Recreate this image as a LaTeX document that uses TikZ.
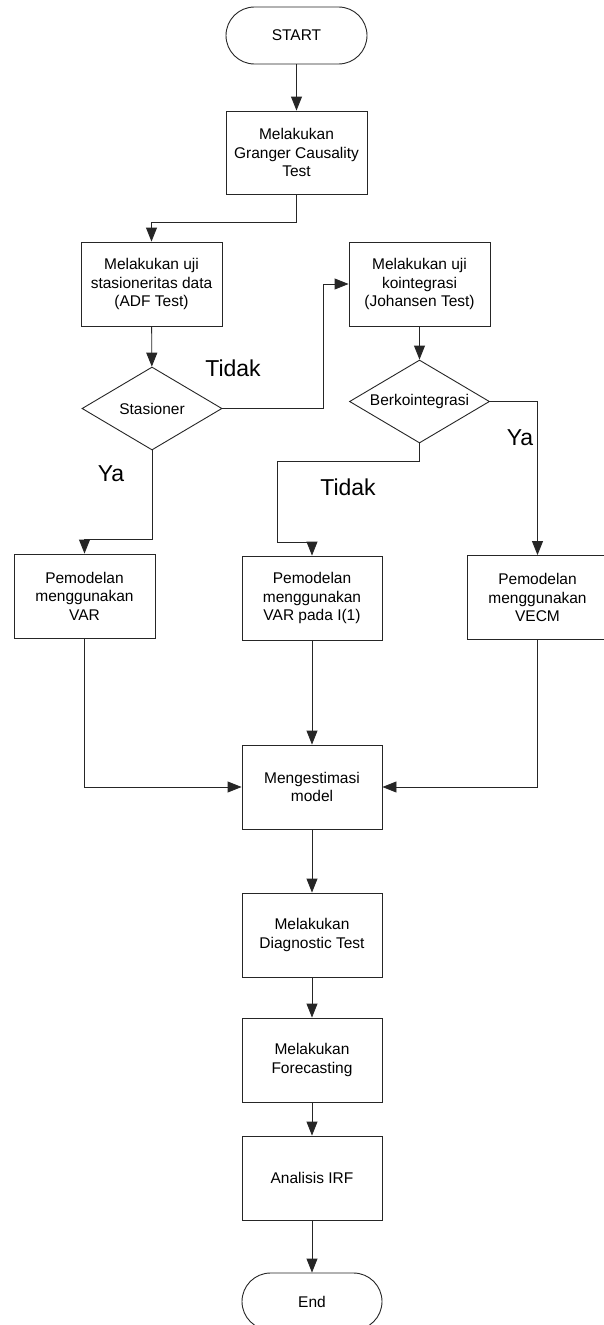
\documentclass[tikz,border=0pt]{standalone}
\usepackage{fontspec}
\setmainfont{Liberation Sans}
\usetikzlibrary{arrows.meta,shapes.geometric}
\newcommand\myboxfont{\fontsize{15.5}{18.5}\selectfont}
\newcommand\mylblfont{\fontsize{23}{26}\selectfont}
\begin{document}
\begin{tikzpicture}[x=1pt,y=-1pt,
  box/.style={draw=black!85, line width=0.9pt, minimum width=141pt, minimum height=84pt, inner sep=0pt, align=center, font=\myboxfont},
  term/.style={draw=black!85, line width=0.9pt, rounded corners=28.5pt, minimum width=141pt, minimum height=57pt, inner sep=0pt, font=\myboxfont},
  dec/.style={draw=black!85, diamond, shape aspect=1.687, line width=0.9pt, minimum width=140pt, minimum height=83pt, inner sep=0pt, font=\myboxfont},
  lbl/.style={font=\mylblfont, inner sep=0pt},
  arr/.style={draw=black!85, line width=0.9pt, -{Triangle[length=14pt,width=11pt]}}]
\useasboundingbox (0,0) rectangle (604,1325);
\fill[white] (0,0) rectangle (604,1325);

\node[term] (start) at (296.5,35.5) {START};
\node[box, minimum height=83pt] (granger) at (296.5,152.5) {Melakukan\\Granger Causality\\Test};
\node[box] (adf) at (151.5,284) {Melakukan uji\\stasioneritas data\\(ADF Test)};
\node[box] (koint) at (419.5,284) {Melakukan uji\\kointegrasi\\(Johansen Test)};
\node[dec] (stas) at (152,408.5) {Stasioner};
\node[dec] (berko) at (419.5,401.5) {Berkointegrasi};
\node[box] (var) at (84.5,596) {Pemodelan\\menggunakan\\VAR};
\node[box, minimum width=140pt] (mid) at (312,598) {Pemodelan\\menggunakan\\VAR pada I(1)};
\node[box] (vecm) at (537.5,597.5) {Pemodelan\\menggunakan\\VECM};
\node[box, minimum width=140pt] (mest) at (312,787) {Mengestimasi\\model};
\node[box, minimum width=140pt] (diag) at (312,935) {Melakukan\\Diagnostic Test};
\node[box, minimum width=140pt] (fore) at (312,1060) {Melakukan\\Forecasting};
\node[box, minimum width=140pt] (irf) at (312,1178) {Analisis IRF};
\node[term, minimum width=140pt] (end) at (312,1301.5) {End};

\node[lbl] (t1) at (233,368) {Tidak};
\node[lbl] (y1) at (111,474) {Ya};
\node[lbl] (t2) at (348,487) {Tidak};
\node[lbl] (y2) at (520,438) {Ya};

\draw[arr] (start) -- (granger);
\draw[arr] (granger.south) -- ++(0,28) -| (adf.north);
\draw[arr] (adf) -- (stas);
\draw[arr] (stas.east) -- ++(101,0) |- (koint.west);
\draw[arr] (koint) -- (berko);
\draw[arr] (stas.south) -- ++(0,89) -| (var.north);
\draw[arr] (berko.south) -- ++(0,18) -| ++(-142.5,81) -| (mid.north);
\draw[arr] (berko.east) -| (vecm.north);
\draw[arr] (var.south) |- (mest.west);
\draw[arr] (vecm.south) |- (mest.east);
\draw[arr] (mid) -- (mest);
\draw[arr] (mest) -- (diag);
\draw[arr] (diag) -- (fore);
\draw[arr] (fore) -- (irf);
\draw[arr] (irf) -- (end);
\end{tikzpicture}
\end{document}
